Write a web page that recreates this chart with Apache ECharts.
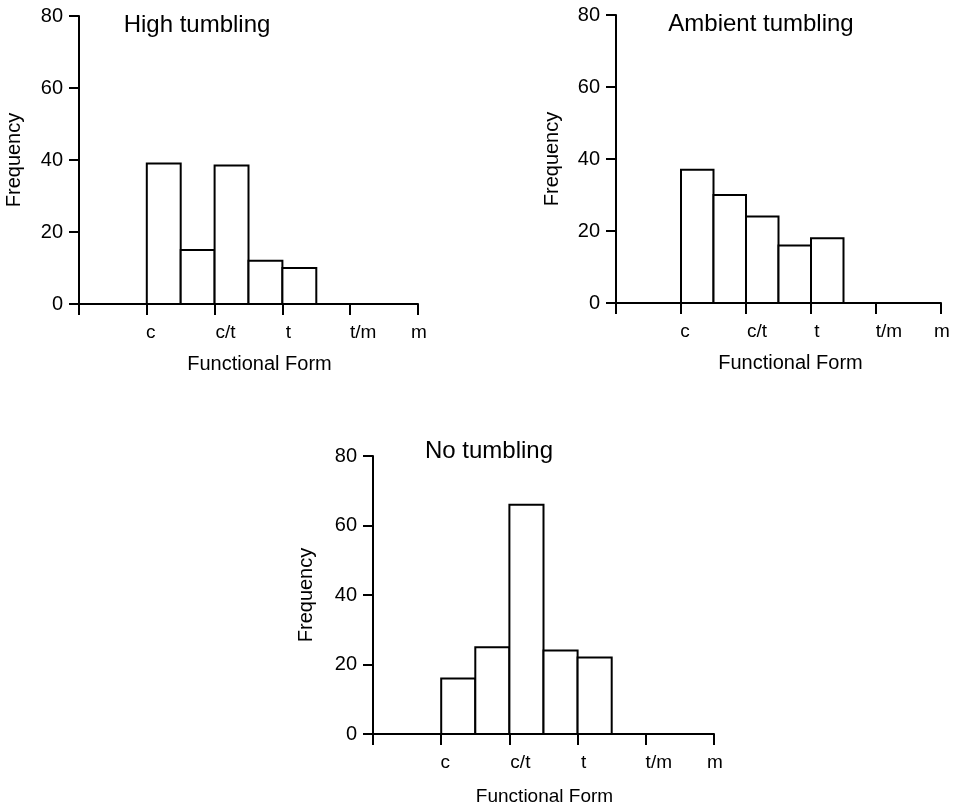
<!DOCTYPE html>
<html>
<head>
<meta charset="utf-8">
<script src="https://cdn.jsdelivr.net/npm/echarts@6/dist/echarts.min.js"></script>
<style>
html,body{margin:0;padding:0;background:#fff;}
#chart{width:956px;height:809px;}
</style>
</head>
<body>
<div id="chart"></div>
<script>
// ---- data ----
var tickLabels = ['', 'c', 'c/t', 't', 't/m', 'm'];
var binStart = [1, 1.5, 2, 2.5, 3];
var binEnd = [1.5, 2, 2.5, 3, 3.5];
var panelTitles = ['High tumbling', 'Ambient tumbling', 'No tumbling'];
var highTumbling = [39, 15, 38.5, 12, 10];
var ambientTumbling = [37, 30, 24, 16, 18];
var noTumbling = [16, 25, 66, 24, 22];
var yTicks = [0, 20, 40, 60, 80];
var xName = 'Functional Form';
var yName = 'Frequency';

// ---- layout / style ----
var FONT = 'Liberation Sans, Arial, sans-serif';
var grids = [
  {left: 79, top: 16, width: 339, height: 288},
  {left: 616, top: 15, width: 325, height: 288},
  {left: 373, top: 456, width: 341, height: 278}
];
var nameShift = [11, 12, 1];
var yNameGap = [55, 54, 57];
var xNameGap = [50, 50, 53];
var xNameSize = [20, 20, 19];
var labelShift = [0, 4, 11, 6, 13, 1];
var titlePos = [[197, 13], [761, 12], [489, 439]];

function richFor() {
  var r = {};
  for (var i = 0; i < tickLabels.length; i++) {
    r['k' + i] = {fontSize: 19, color: '#000', fontFamily: FONT, padding: [0, 0, 0, labelShift[i] * 2]};
  }
  return r;
}

function makeData(vals) {
  var d = [];
  for (var i = 0; i < vals.length; i++) d.push([binStart[i], binEnd[i], vals[i]]);
  return d;
}

var allVals = [highTumbling, ambientTumbling, noTumbling];
var option = {
  backgroundColor: '#fff',
  animation: false,
  title: [], grid: [], xAxis: [], yAxis: [], series: []
};

for (var p = 0; p < 3; p++) {
  var g = grids[p];
  option.grid.push({left: g.left, top: g.top, width: g.width, height: g.height, containLabel: false, outerBoundsMode: 'none'});
  option.title.push({
    text: panelTitles[p], left: titlePos[p][0], top: titlePos[p][1], textAlign: 'center', padding: 0,
    textStyle: {fontSize: 24, fontWeight: 'normal', color: '#000', fontFamily: FONT}
  });
  option.xAxis.push({
    type: 'value', gridIndex: p, min: 0, max: 5, interval: 1,
    name: xName, nameLocation: 'middle', nameGap: xNameGap[p],
    nameTextStyle: {fontSize: xNameSize[p], color: '#000', fontFamily: FONT, padding: [0, 0, 0, nameShift[p] * 2]},
    axisLine: {show: true, onZero: false, lineStyle: {color: '#000', width: 2}},
    axisTick: {show: true, inside: false, length: 11, lineStyle: {color: '#000', width: 2}},
    splitLine: {show: false},
    axisLabel: {
      margin: 19, fontSize: 19, color: '#000', fontFamily: FONT,
      formatter: function (v) { var i = Math.round(v); return tickLabels[i] ? '{k' + i + '|' + tickLabels[i] + '}' : ''; },
      rich: richFor()
    }
  });
  option.yAxis.push({
    type: 'value', gridIndex: p, min: yTicks[0], max: yTicks[yTicks.length - 1], interval: 20,
    name: yName, nameLocation: 'middle', nameGap: yNameGap[p],
    nameTextStyle: {fontSize: 20, color: '#000', fontFamily: FONT},
    axisLine: {show: true, lineStyle: {color: '#000', width: 2}},
    axisTick: {show: true, inside: false, length: 10, lineStyle: {color: '#000', width: 2}},
    splitLine: {show: false},
    axisLabel: {margin: 16, fontSize: 20, color: '#000', fontFamily: FONT}
  });
  option.series.push({
    type: 'custom', xAxisIndex: p, yAxisIndex: p,
    data: makeData(allVals[p]),
    encode: {x: [0, 1], y: 2},
    renderItem: function (params, api) {
      var p0 = api.coord([api.value(0), 0]);
      var p1 = api.coord([api.value(1), api.value(2)]);
      return {
        type: 'rect',
        shape: {x: p0[0], y: p1[1], width: p1[0] - p0[0], height: p0[1] - p1[1]},
        style: {fill: '#fff', stroke: '#000', lineWidth: 2}
      };
    }
  });
}

var chart = echarts.init(document.getElementById('chart'), null, {renderer: 'canvas'});
chart.setOption(option);
</script>
</body>
</html>
